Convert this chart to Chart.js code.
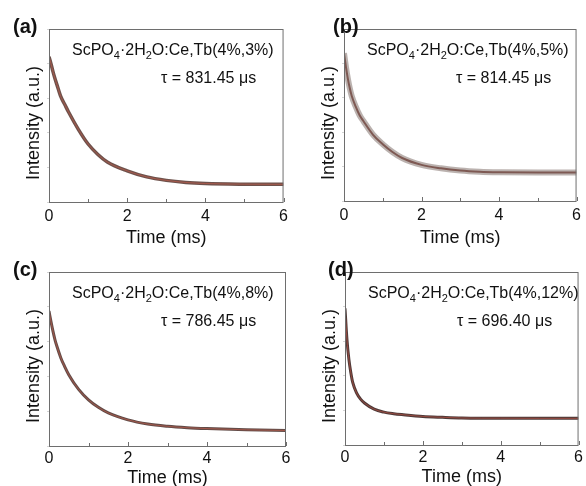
<!DOCTYPE html>
<html>
<head>
<meta charset="utf-8">
<script src="https://cdn.jsdelivr.net/npm/chart.js@4.4.1/dist/chart.umd.min.js"></script>
<style>
html, body { margin: 0; padding: 0; background: #fff; }
#wrap { position: relative; width: 586px; height: 486px; overflow: hidden; }
#wrap canvas { position: absolute; }
</style>
</head>
<body>
<div id="wrap">
    <canvas id="decay_a" width="293" height="250" style="left:0;top:0"></canvas>
    <canvas id="decay_b" width="293" height="250" style="left:293px;top:0"></canvas>
    <canvas id="decay_c" width="293" height="243" style="left:0;top:243px"></canvas>
    <canvas id="decay_d" width="293" height="243" style="left:293px;top:243px"></canvas>
</div>
<script>
// time axis of the decay curves (ms)
var timeMs = [0, 0.05, 0.1, 0.15, 0.2, 0.3, 0.4, 0.5, 0.75, 1, 1.25, 1.5, 2, 2.5, 3, 3.5, 4, 5, 6];

// normalised intensity (0 = bottom of frame, 1 = top)
var decayA = [0.84, 0.80, 0.755, 0.715, 0.68, 0.61, 0.565, 0.52, 0.42, 0.335, 0.275, 0.23, 0.18, 0.145, 0.125, 0.113, 0.107, 0.103, 0.102];
var decayB = [0.86, 0.78, 0.71, 0.655, 0.61, 0.55, 0.50, 0.465, 0.385, 0.33, 0.285, 0.25, 0.21, 0.19, 0.177, 0.17, 0.167, 0.165, 0.165];
var decayC = [0.775, 0.715, 0.66, 0.612, 0.573, 0.506, 0.455, 0.41, 0.325, 0.265, 0.222, 0.19, 0.15, 0.126, 0.113, 0.105, 0.10, 0.093, 0.089];
var decayD = [0.79, 0.61, 0.495, 0.418, 0.36, 0.30, 0.265, 0.243, 0.207, 0.19, 0.181, 0.175, 0.165, 0.16, 0.156, 0.155, 0.155, 0.154, 0.154];

var panelLabels = ['(a)', '(b)', '(c)', '(d)'];
var dopings = ['4%,3%', '4%,5%', '4%,8%', '4%,12%'];
var lifetimes = ['831.45', '814.45', '786.45', '696.40'];
var xTickLabels = [0, 2, 4, 6];

var FONT = '"Liberation Sans", Arial, Helvetica, sans-serif';

// where each frame sits inside its canvas
var panels = [
    {id: 'decay_a', data: decayA, h: 250, areaL: 49, areaT: 29, areaR: 287, areaB: 202, axisH: 45, tickPad: 5, labelX: 13, band: 3.5, bandColor: 'rgba(85,52,45,0.85)', fit: 1, fitColor: 'rgba(215,95,75,0.55)'},
    {id: 'decay_b', data: decayB, h: 250, areaL: 51, areaT: 29, areaR: 287, areaB: 201, axisH: 46, tickPad: 5, labelX: 40, band: 6, bandColor: 'rgba(120,102,96,0.5)', fit: 2, fitColor: 'rgba(105,60,52,0.75)'},
    {id: 'decay_c', data: decayC, h: 243, areaL: 49, areaT: 29, areaR: 286, areaB: 203, axisH: 41, tickPad: 2.5, labelX: 13, band: 3, bandColor: 'rgba(70,45,40,0.85)', fit: 1, fitColor: 'rgba(215,95,75,0.55)'},
    {id: 'decay_d', data: decayD, h: 243, areaL: 52, areaT: 29, areaR: 287, areaB: 202, axisH: 41, tickPad: 3, labelX: 35, band: 3, bandColor: 'rgba(60,38,35,0.9)', fit: 1, fitColor: 'rgba(210,85,70,0.55)'}
];

// frame, inward ticks and all the text written inside a panel
var panelDecor = {
    id: 'panelDecor',
    afterDraw: function (chart) {
        var o = chart.options.plugins.panelDecor;
        var ctx = chart.ctx, area = chart.chartArea, xs = chart.scales.x;
        ctx.save();
        ctx.strokeStyle = '#6e6e6e';
        ctx.lineWidth = 1;
        ctx.strokeRect(area.left + 0.5, area.top + 0.5, area.right - area.left - 1, area.bottom - area.top);

        xs.ticks.forEach(function (t) {
            var px = Math.round(xs.getPixelForValue(t.value)) + 0.5;
            var len = xTickLabels.indexOf(t.value) >= 0 ? 4 : 3;
            ctx.beginPath();
            ctx.moveTo(px, area.bottom);
            ctx.lineTo(px, area.bottom - len);
            ctx.stroke();
        });

        ctx.fillStyle = '#111';
        ctx.textBaseline = 'alphabetic';
        ctx.textAlign = 'left';

        // panel letter
        ctx.font = 'bold 20px ' + FONT;
        ctx.fillText(o.label, o.labelX, 33);

        // compound with subscripts
        var parts = [['ScPO', 0], ['4', 1], ['\u00b72H', 0], ['2', 1], ['O:Ce,Tb(' + o.doping + ')', 0]];
        var tx = area.left + 23, ty = area.top + 26;
        parts.forEach(function (p) {
            ctx.font = (p[1] ? '11px ' : '16px ') + FONT;
            ctx.fillText(p[0], tx, ty + (p[1] ? 4 : 0));
            tx += ctx.measureText(p[0]).width;
        });

        ctx.font = '16px ' + FONT;
        ctx.fillText('\u03c4 = ' + o.tau + ' \u03bcs', area.left + 112, area.top + 54);

        // y axis title
        ctx.font = '18px ' + FONT;
        ctx.textAlign = 'center';
        ctx.textBaseline = 'middle';
        ctx.translate(area.left - 15, area.top + 94);
        ctx.rotate(-Math.PI / 2);
        ctx.fillText('Intensity (a.u.)', 0, 0);
        ctx.restore();
    }
};

panels.forEach(function (p, i) {
    var points = timeMs.map(function (t, k) { return {x: t, y: p.data[k]}; });
    new Chart(document.getElementById(p.id), {
        type: 'line',
        data: {
            datasets: [{
                label: 'Fit',
                data: points,
                borderColor: p.fitColor,
                borderWidth: p.fit,
                pointRadius: 0,
                cubicInterpolationMode: 'monotone'
            }, {
                label: 'Measured',
                data: points,
                borderColor: p.bandColor,
                borderWidth: p.band,
                pointRadius: 0,
                cubicInterpolationMode: 'monotone'
            }]
        },
        options: {
            responsive: false,
            animation: false,
            events: [],
            layout: {
                padding: {left: 0, top: p.areaT, right: 293 - p.areaR, bottom: p.h - p.areaB - p.axisH}
            },
            scales: {
                x: {
                    type: 'linear',
                    min: 0,
                    max: 6,
                    ticks: {
                        stepSize: 1,
                        autoSkip: false,
                        maxRotation: 0,
                        padding: p.tickPad,
                        color: '#111',
                        font: {family: FONT, size: 16},
                        callback: function (v) { return xTickLabels.indexOf(v) >= 0 ? String(v) : ''; }
                    },
                    grid: {display: false, drawTicks: false},
                    border: {display: false},
                    title: {
                        display: true,
                        text: 'Time (ms)',
                        color: '#111',
                        padding: 0,
                        font: {family: FONT, size: 18, lineHeight: 1}
                    },
                    afterFit: function (scale) { scale.height = p.axisH; }
                },
                y: {
                    min: 0,
                    max: 1,
                    ticks: {display: false, stepSize: 0.2},
                    grid: {drawOnChartArea: false, drawTicks: true, tickLength: 2, color: '#d4d4d4'},
                    border: {display: false},
                    afterFit: function (scale) { scale.width = p.areaL; }
                }
            },
            plugins: {
                legend: {display: false},
                tooltip: {enabled: false},
                panelDecor: {label: panelLabels[i], labelX: p.labelX, doping: dopings[i], tau: lifetimes[i]}
            }
        },
        plugins: [panelDecor]
    });
});
</script>
</body>
</html>
